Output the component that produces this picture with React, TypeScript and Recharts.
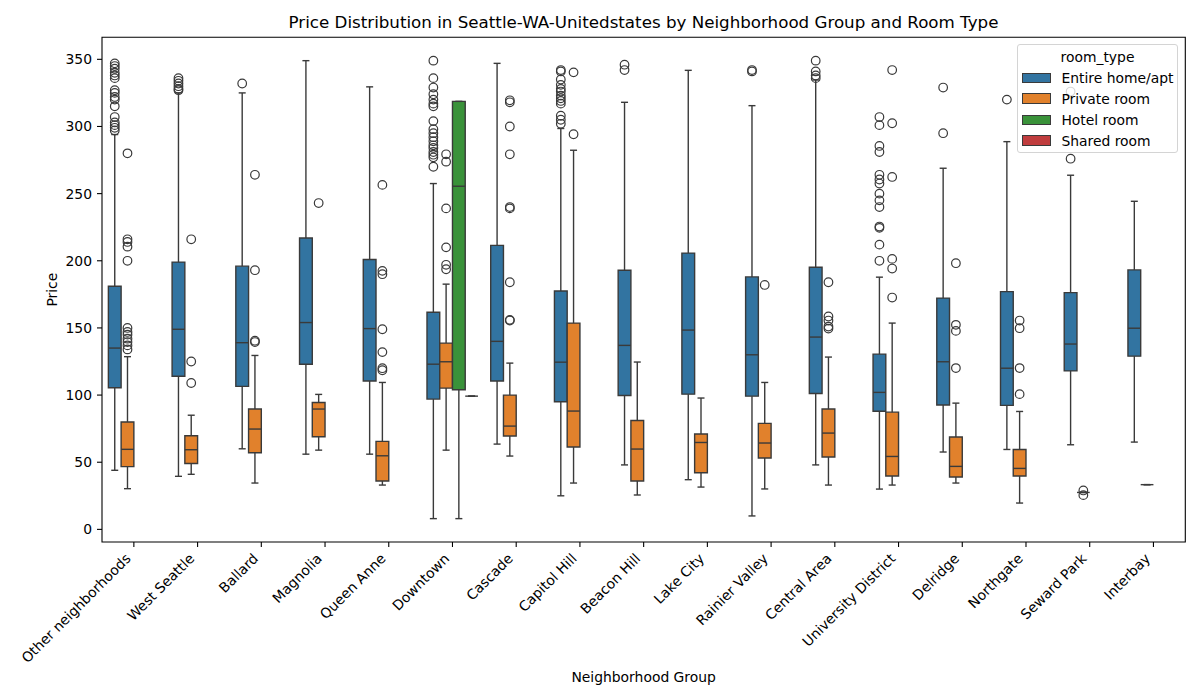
import React from 'react';
import { ComposedChart, XAxis, YAxis, ReferenceArea, ReferenceLine, Scatter } from 'recharts';

const groups = [
  'Other neighborhoods', 'West Seattle', 'Ballard', 'Magnolia', 'Queen Anne', 'Downtown',
  'Cascade', 'Capitol Hill', 'Beacon Hill', 'Lake City', 'Rainier Valley', 'Central Area',
  'University District', 'Delridge', 'Northgate', 'Seward Park', 'Interbay',
];

const roomTypes = ['Entire home/apt', 'Private room', 'Hotel room', 'Shared room'];

const yTicks = [0, 50, 100, 150, 200, 250, 300, 350];

// [min whisker, q1, median, q3, max whisker]
const entireHome: (number[] | null)[] = [
  [44, 105.5, 135, 181, 294],
  [39.5, 114, 149, 199, 325],
  [60, 106.5, 139, 196, 325],
  [56, 123, 154, 217, 349],
  [56, 110.5, 149.5, 201, 329.5],
  [8, 97, 123, 161.7, 257.5],
  [63.5, 110.5, 140, 211.5, 347],
  [25, 95, 124.5, 177.5, 298.5],
  [48, 99.7, 137, 193, 318],
  [37, 100.7, 148.4, 205.7, 341.8],
  [10, 99.2, 130, 188, 315.5],
  [48, 101.2, 143.2, 195.2, 334.6],
  [30, 88, 102, 130.5, 187.8],
  [57.6, 92.6, 124.8, 172.2, 268.9],
  [59.5, 92.3, 120, 177, 288.7],
  [63, 118, 138, 176.3, 263.7],
  [65, 129, 149.8, 193.2, 244.3],
];

const privateRoom: (number[] | null)[] = [
  [30.3, 46.7, 59.6, 80, 128.6],
  [41, 49, 59.3, 69.7, 85],
  [34.5, 57, 74.7, 89.6, 129.5],
  [59, 69, 89.6, 94.5, 100.5],
  [33, 36, 54.8, 65.5, 109.4],
  [59, 105.2, 124.8, 138.7, 182.6],
  [54.6, 69.5, 76.9, 100, 123.8],
  [34.5, 61.3, 88.1, 153.6, 282.3],
  [25.6, 36, 59.8, 81.1, 124.6],
  [31.5, 42.2, 64.7, 71, 97.8],
  [30.1, 53.1, 64.3, 78.9, 109.4],
  [33, 53.9, 71.7, 89.6, 128.3],
  [33, 39.7, 54.3, 87.3, 153.6],
  [34.5, 39, 46.9, 68.8, 94],
  [19.6, 39.7, 45.4, 59.5, 87.8],
  [27.5, 27.5, 27.5, 27.5, 27.5],
  [33.3, 33.3, 33.3, 33.3, 33.3],
];

const hotelRoom: (number[] | null)[] = [
  null, null, null, null, null,
  [8, 104, 255.5, 318.7, 318.7],
  null, null, null, null, null, null, null, null, null, null, null,
];

const sharedRoom: (number[] | null)[] = [
  null, null, null, null, null,
  [99.2, 99.2, 99.2, 99.2, 99.2],
  null, null, null, null, null, null, null, null, null, null, null,
];

const entireHomeOutliers: number[][] = [
  [347, 345, 343, 340, 338, 336, 327, 325, 322, 320, 315, 307, 303, 301, 299, 297],
  [336, 334, 332, 330, 328, 327],
  [332],
  [],
  [],
  [349, 336, 329, 324, 320, 317, 315, 304, 298, 295, 292, 289, 286, 284, 281, 279, 277, 270],
  [],
  [342, 341, 335, 331, 328, 326, 323, 321, 319, 317, 308, 305, 302],
  [346, 342],
  [],
  [342, 341],
  [349, 341, 338, 336],
  [307, 301, 285.5, 281, 264, 260.5, 257.5, 250, 245, 240, 225.5, 224.5, 212, 200],
  [329, 295],
  [320],
  [326, 276],
  [],
];

const privateRoomOutliers: number[][] = [
  [280, 216, 214, 210.5, 200, 150, 147, 145, 142, 139.5, 137, 134],
  [216, 125, 109],
  [264, 193, 140.5, 139.5],
  [243],
  [256.5, 192.5, 190, 149, 132, 120, 118.5],
  [279.3, 273.8, 239, 210, 197, 193.7],
  [319.5, 318, 300, 279.3, 240, 239, 184, 156, 155.5],
  [340.3, 294.2],
  [],
  [],
  [182],
  [184, 158.5, 155.5, 151, 149.5],
  [342, 302.4, 262.4, 201.4, 194.2, 172.6],
  [198.2, 152.3, 147.8, 120.1],
  [155.5, 149.8, 120.1, 100.7],
  [29, 25.5],
  [],
];

const hotelRoomOutliers: number[][] = groups.map(() => []);
const sharedRoomOutliers: number[][] = groups.map(() => []);

const seriesStats = [entireHome, privateRoom, hotelRoom, sharedRoom];
const seriesOutliers = [entireHomeOutliers, privateRoomOutliers, hotelRoomOutliers, sharedRoomOutliers];

const COLORS = ['#3274a1', '#e1812c', '#3a923a', '#c03d3e'];
const LINE = '#3a3a3a';
const LW = 1.4;
const FONT = "'DejaVu Sans', sans-serif";
const BOX_W = 0.2;
const CAP_HALF = 0.055;
const HUE_OFFSETS = [-0.3, -0.1, 0.1, 0.3];
const Y_DOMAIN: [number, number] = [-9.4, 366.4];
const X_DOMAIN: [number, number] = [-0.5, 16.5];

const areas: React.ReactNode[] = [];
const lines: React.ReactNode[] = [];
seriesStats.forEach((stats, h) => {
  stats.forEach((s, i) => {
    if (!s) return;
    const c = i + HUE_OFFSETS[h];
    const [mn, q1, md, q3, mx] = s;
    const l = c - BOX_W / 2;
    const r = c + BOX_W / 2;
    const k = `${h}-${i}`;
    lines.push(
      <ReferenceLine key={`wl-${k}`} segment={[{ x: c, y: mn }, { x: c, y: q1 }]} stroke={LINE} strokeWidth={LW} ifOverflow="visible" />,
      <ReferenceLine key={`wu-${k}`} segment={[{ x: c, y: q3 }, { x: c, y: mx }]} stroke={LINE} strokeWidth={LW} ifOverflow="visible" />,
      <ReferenceLine key={`cl-${k}`} segment={[{ x: c - CAP_HALF, y: mn }, { x: c + CAP_HALF, y: mn }]} stroke={LINE} strokeWidth={LW} ifOverflow="visible" />,
      <ReferenceLine key={`cu-${k}`} segment={[{ x: c - CAP_HALF, y: mx }, { x: c + CAP_HALF, y: mx }]} stroke={LINE} strokeWidth={LW} ifOverflow="visible" />,
    );
    areas.push(
      <ReferenceArea key={`b-${k}`} x1={l} x2={r} y1={q1} y2={q3} fill={COLORS[h]} fillOpacity={1} stroke={LINE} strokeWidth={LW} ifOverflow="visible" />,
    );
  });
});
const medians: React.ReactNode[] = [];
seriesStats.forEach((stats, h) => {
  stats.forEach((s, i) => {
    if (!s) return;
    const c = i + HUE_OFFSETS[h];
    medians.push(
      <ReferenceLine key={`m-${h}-${i}`} segment={[{ x: c - BOX_W / 2, y: s[2] }, { x: c + BOX_W / 2, y: s[2] }]} stroke={LINE} strokeWidth={LW} ifOverflow="visible" />,
    );
  });
});

const fliers: { x: number; y: number }[] = [];
seriesOutliers.forEach((arr, h) => {
  arr.forEach((vals, i) => {
    vals.forEach((v) => fliers.push({ x: i + HUE_OFFSETS[h], y: v }));
  });
});

const renderFlier = (props: any) => (
  <circle cx={props.cx} cy={props.cy} r={4.3} fill="none" stroke={LINE} strokeWidth={1.2} />
);

const XTick = (props: any) => {
  const { x, y, payload } = props;
  const ax = x - 2.3;
  const ay = y + 7.5;
  return (
    <text x={ax} y={ay} transform={`rotate(-45 ${ax} ${ay})`} textAnchor="end" fontSize={13.9} fill="#000" fontFamily={FONT}>
      {groups[payload.value]}
    </text>
  );
};

const XLabel = (props: any) => {
  const vb = props.viewBox || { x: 102, y: 542, width: 1083, height: 158 };
  return (
    <text x={vb.x + vb.width / 2} y={vb.y + 135} textAnchor="middle" dominantBaseline="central" fontSize={13.9} fill="#000" fontFamily={FONT}>
      Neighborhood Group
    </text>
  );
};

const YLabel = (props: any) => {
  const vb = props.viewBox || { x: 0, y: 37, width: 102, height: 505 };
  const cx = vb.x + 52;
  const cy = vb.y + vb.height / 2;
  return (
    <text x={cx} y={cy} transform={`rotate(-90 ${cx} ${cy})`} textAnchor="middle" dominantBaseline="central" fontSize={13.9} fill="#000" fontFamily={FONT}>
      Price
    </text>
  );
};

const legendRows = [32.6, 53.3, 74.6, 95.3];

export default function App() {
  return (
    <div style={{ position: 'absolute', left: 0, top: 0, width: 1200, height: 700, background: '#fff', fontFamily: FONT }}>
      <div style={{ position: 'absolute', left: 102, top: 12, width: 1083, textAlign: 'center', fontSize: 16.7, lineHeight: '20px', color: '#000' }}>
        Price Distribution in Seattle-WA-Unitedstates by Neighborhood Group and Room Type
      </div>
      <ComposedChart width={1200} height={700} margin={{ top: 37.3, right: 14.7, bottom: 0, left: 0 }}>
        <XAxis
          type="number"
          dataKey="x"
          domain={X_DOMAIN}
          allowDataOverflow
          ticks={groups.map((_, i) => i)}
          interval={0}
          tick={<XTick />}
          tickSize={5}
          tickMargin={5}
          height={158}
          axisLine={false}
          tickLine={{ stroke: '#000', strokeWidth: 1.1 }}
          label={<XLabel />}
        />
        <YAxis
          type="number"
          dataKey="y"
          domain={Y_DOMAIN}
          allowDataOverflow
          ticks={yTicks}
          interval={0}
          width={102}
          tickSize={5}
          tickMargin={5}
          axisLine={false}
          tickLine={{ stroke: '#000', strokeWidth: 1.1 }}
          tick={{ fontSize: 13.9, fill: '#000', fontFamily: FONT }}
          label={<YLabel />}
        />
        {lines}
        {areas}
        {medians}
        <Scatter data={fliers} isAnimationActive={false} shape={renderFlier} legendType="none" />
        <ReferenceArea x1={X_DOMAIN[0]} x2={X_DOMAIN[1]} y1={Y_DOMAIN[0]} y2={Y_DOMAIN[1]} fill="none" stroke="#000" strokeWidth={1.1} ifOverflow="visible" />
      </ComposedChart>
      <div style={{ position: 'absolute', left: 1016.7, top: 44.3, width: 161.6, height: 109, boxSizing: 'border-box', border: '1px solid #d4d4d4', borderRadius: 3, background: 'rgba(255,255,255,0.8)', fontSize: 13.9, color: '#000' }}>
        <div style={{ position: 'absolute', left: 0, width: '100%', top: 3.5, lineHeight: '16px', textAlign: 'center' }}>room_type</div>
        {roomTypes.map((rt, h) => (
          <React.Fragment key={rt}>
            <div style={{ position: 'absolute', left: 4.3, top: legendRows[h] - 5.2, width: 29, height: 10.4, boxSizing: 'border-box', background: COLORS[h], border: `1px solid ${LINE}` }} />
            <div style={{ position: 'absolute', left: 43.7, top: legendRows[h] - 8, lineHeight: '16px', whiteSpace: 'nowrap' }}>{rt}</div>
          </React.Fragment>
        ))}
      </div>
    </div>
  );
}
